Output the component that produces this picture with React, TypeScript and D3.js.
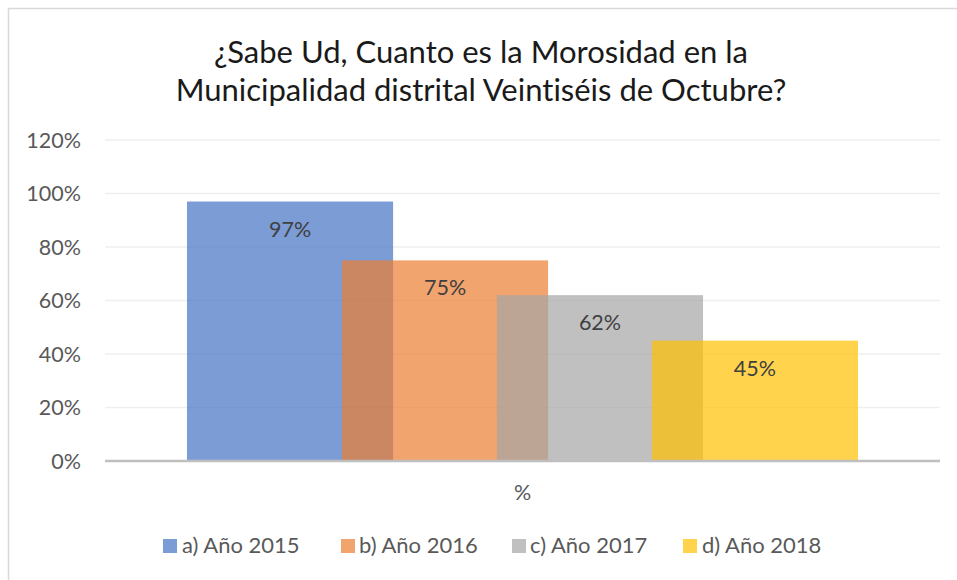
import React from "react";
import * as d3 from "d3";

const titleLines = ["¿Sabe Ud, Cuanto es la Morosidad en la", "Municipalidad distrital Veintiséis de Octubre?"];
const categories = ["%"];
const seriesNames = ["a) Año 2015", "b) Año 2016", "c) Año 2017", "d) Año 2018"];
const seriesValues = [97, 75, 62, 45];
const seriesColors = ["#4472C4", "#ED7D31", "#A5A5A5", "#FFC000"];
const yTicks = [0, 20, 40, 60, 80, 100, 120];

const W = 957;
const H = 580;
const FONT = "Lato, 'Open Sans', sans-serif";

export default function App() {
  const plotLeft = 105;
  const plotRight = 940;
  const plotTop = 140;
  const plotBottom = 461;

  const y = d3.scaleLinear().domain([0, 120]).range([plotBottom, plotTop]);
  const x0 = d3.scaleBand().domain(categories).range([plotLeft, plotRight]).paddingOuter(0.1222).paddingInner(0);
  const catBand = x0.bandwidth();
  const catStart = x0(categories[0]) as number;
  // bars overlap: each bar width = 1.33 * step
  const step = catBand / (seriesNames.length - 1 + 1.33);
  const barW = step * 1.33;
  const xs = d3
    .scaleBand()
    .domain(seriesNames)
    .range([catStart, catStart + step * seriesNames.length])
    .paddingInner(0)
    .paddingOuter(0);

  const legendItems = [
    { x: 163, tx: 182 },
    { x: 341, tx: 359 },
    { x: 512, tx: 530 },
    { x: 683, tx: 702 },
  ];

  return (
    <svg
      width={W}
      height={H}
      style={{ position: "absolute", left: 0, top: 0, background: "#fff", fontVariantLigatures: "none" }}
      fontFamily={FONT}
    >
      <rect x={8.5} y={8.5} width={W + 10} height={H + 10} fill="#fff" stroke="#d9d9d9" strokeWidth={1.5} />
      {titleLines.map((t, i) => (
        <text key={i} x={481} y={63 + i * 38} textAnchor="middle" fontSize={31} fill="#1a1a1a">
          {t}
        </text>
      ))}
      {yTicks.map((t) => (
        <g key={t}>
          {t !== 0 && (
            <line x1={plotLeft} x2={plotRight} y1={y(t)} y2={y(t)} stroke="#efefef" strokeWidth={1.5} />
          )}
          <text x={81} y={y(t)} dy="0.35em" textAnchor="end" fontSize={21.5} fill="#595959">
            {t}%
          </text>
        </g>
      ))}
      {seriesNames.map((s, i) => {
        const bx = xs(s) as number;
        const v = seriesValues[i];
        return (
          <rect
            key={s}
            x={bx}
            y={y(v)}
            width={barW}
            height={plotBottom - 1 - y(v)}
            fill={seriesColors[i]}
            fillOpacity={0.7}
          />
        );
      })}
      {seriesNames.map((s, i) => {
        const bx = xs(s) as number;
        const v = seriesValues[i];
        return (
          <text key={s} x={bx + barW / 2} y={y(v) + 35} textAnchor="middle" fontSize={21.5} fill="#404040">
            {v}%
          </text>
        );
      })}
      <line x1={plotLeft} x2={plotRight} y1={plotBottom} y2={plotBottom} stroke="#bfbfbf" strokeWidth={2.5} />
      <text x={catStart + catBand / 2} y={500} textAnchor="middle" fontSize={21.5} fill="#595959">
        {categories[0]}
      </text>
      {seriesNames.map((s, i) => (
        <g key={s}>
          <rect x={legendItems[i].x} y={539} width={14} height={14} fill={seriesColors[i]} fillOpacity={0.7} />
          <text x={legendItems[i].tx} y={553} fontSize={22} fill="#595959">
            {s}
          </text>
        </g>
      ))}
    </svg>
  );
}
